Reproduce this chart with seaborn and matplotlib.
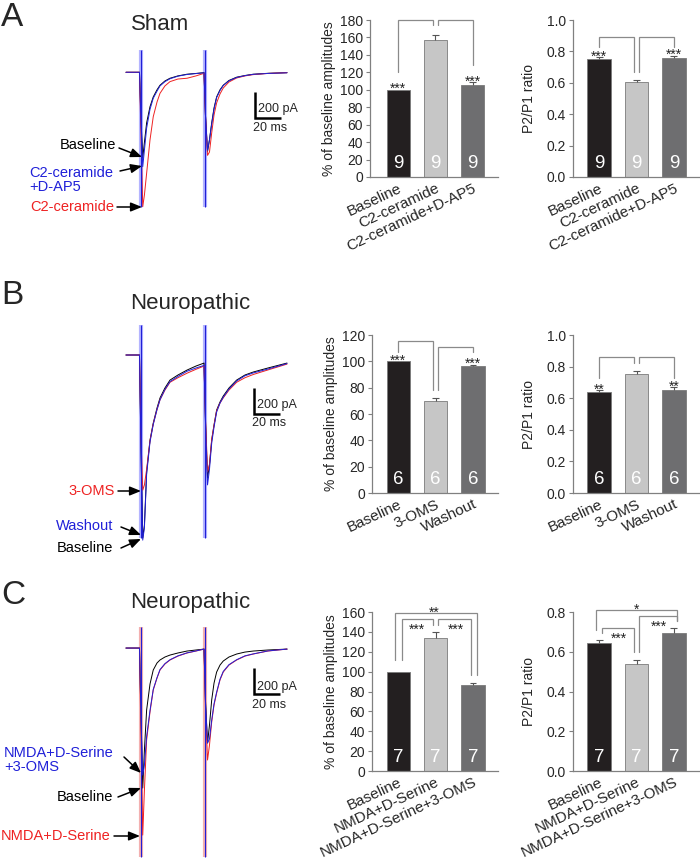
import numpy as np
import pandas as pd
import matplotlib
matplotlib.use("Agg")
import matplotlib.pyplot as plt
import matplotlib.transforms as mtransforms
from matplotlib.patches import FancyArrowPatch
import seaborn as sns

sns.set_theme(style="white")
plt.rcParams['font.family'] = ['Liberation Sans', 'DejaVu Sans']

# ---------------- bar-chart data ----------------
cond_A = ["Baseline", "C2-ceramide", "C2-ceramide+D-AP5"]
amp_A = [100, 157.5, 106]
amp_A_sem = [0, 5, 2.5]
ppr_A = [0.752, 0.605, 0.76]
ppr_A_sem = [0.01, 0.015, 0.012]
n_A = [9, 9, 9]
star_A_amp = ["***", "", "***"]
star_A_ppr = ["***", "", "***"]

cond_B = ["Baseline", "3-OMS", "Washout"]
amp_B = [100, 70, 96.3]
amp_B_sem = [0, 1.8, 1.2]
ppr_B = [0.642, 0.755, 0.655]
ppr_B_sem = [0.01, 0.015, 0.015]
n_B = [6, 6, 6]
star_B_amp = ["***", "", "***"]
star_B_ppr = ["**", "", "**"]

cond_C = ["Baseline", "NMDA+D-Serine", "NMDA+D-Serine+3-OMS"]
amp_C = [100, 133.5, 87]
amp_C_sem = [0, 6.5, 2]
ppr_C = [0.645, 0.54, 0.695]
ppr_C_sem = [0.012, 0.018, 0.022]
n_C = [7, 7, 7]
star_C_amp = ["", "", ""]
star_C_ppr = ["", "", ""]

# brackets: (x_start, x_end, y_start, y_top, y_end, label, label_x, label_pos)
brk_A_amp = [(0, 0.92, 120, 180, 174, "", 0, ""), (1.08, 2, 174, 180, 128, "", 0, "")]
brk_A_ppr = [(0, 0.93, 0.83, 0.894, 0.67, "", 0, ""), (1.08, 2, 0.67, 0.894, 0.83, "", 0, "")]
brk_B_amp = [(0, 0.93, 107, 115.5, 78, "", 0, ""), (1.07, 2, 78, 111, 107, "", 0, "")]
brk_B_ppr = [(0, 0.93, 0.725, 0.858, 0.82, "", 0, ""), (1.07, 2, 0.82, 0.858, 0.725, "", 0, "")]
brk_C_amp = [(-0.09, 2.1, 111.7, 158.6, 96.6, "**", 0.95, "above"),
             (0.09, 0.94, 111.7, 152.6, 146.9, "***", 0.49, "below"),
             (1.07, 1.96, 146.9, 152.6, 96.6, "***", 1.54, "below")]
brk_C_ppr = [(-0.09, 2.09, 0.709, 0.81, 0.755, "*", 1.0, "above"),
             (0.07, 0.92, 0.693, 0.718, 0.60, "***", 0.52, "below"),
             (1.08, 2.09, 0.60, 0.778, 0.755, "***", 1.6, "below")]

# ---------------- trace data (ms, pA) ----------------
t_ms = [0, 10.4, 11.6, 12.9, 14.2, 15.9, 18.5, 21.0, 23.9, 26.2, 30.0, 33.9, 40.0, 47.0,
        53.9, 60.1, 61.2, 62.8, 64.3, 66.0, 67.8, 69.8, 72.4, 74.9, 79.3, 85.2, 91.6,
        98.0, 109.3, 124.0]
stim_ms = [11.3, 60.8]

A_base = [0, 0, -370, -660, -540, -390, -265, -190, -135, -100, -67, -46, -28, -15, -9, -3,
          -330, -610, -520, -390, -275, -190, -135, -100, -63, -38, -25, -15, -8, -3]
A_c2 = [0, 0, -500, -1035, -945, -778, -521, -342, -229, -162, -105, -72, -52, -46, -28, -8,
        -330, -640, -614, -467, -329, -236, -167, -121, -75, -44, -28, -18, -9, -3]
A_c2ap5 = [0, 0, -400, -727, -600, -430, -285, -200, -145, -105, -72, -50, -30, -17, -10, -4,
           -330, -600, -520, -400, -285, -195, -140, -102, -66, -40, -26, -16, -9, -4]
A_artifact = [172, -1035]

B_base = [0, 0, -730, -1409, -1309, -900, -655, -524, -408, -331, -254, -193, -154, -116, -85, -62,
          -500, -947, -847, -655, -539, -424, -362, -316, -254, -193, -154, -131, -100, -62]
B_oms = [0, 0, -650, -1040, -1000, -880, -660, -530, -420, -345, -270, -210, -175, -140, -110, -85,
         -480, -900, -840, -650, -540, -430, -370, -330, -270, -210, -175, -150, -115, -70]
B_wash = [0, 0, -750, -1425, -1330, -920, -670, -535, -420, -345, -265, -205, -165, -125, -100, -80,
          -520, -1000, -880, -680, -555, -440, -370, -325, -262, -200, -160, -138, -108, -66]
B_artifact = [231, -1409]

C_base = [0, 0, -554, -1078, -785, -477, -277, -169, -115, -92, -69, -54, -38, -23, -15, -8,
          -400, -731, -593, -400, -270, -185, -131, -100, -69, -46, -31, -23, -15, -8]
C_nmda = [0, 0, -700, -1440, -1093, -708, -493, -323, -231, -169, -123, -92, -62, -38, -23, -8,
          -450, -862, -747, -570, -439, -347, -246, -185, -131, -92, -62, -46, -23, -8]
C_nmda_oms = [0, 0, -550, -978, -900, -680, -480, -318, -228, -166, -120, -90, -60, -37, -22, -8,
              -420, -731, -700, -555, -430, -340, -240, -180, -128, -90, -60, -45, -22, -8]
C_artifact = [162, -1609]

scale_pA = 200
scale_ms = 20

BLACK = "#000000"
RED = "#ee2222"
BLUE = "#2020d8"
bar_colors = ["#231f20", "#c6c6c6", "#6e6e70"]
GREY = "#8a8a8a"

W, H = 700, 863
fig = plt.figure(figsize=(7, 8.63), dpi=100)
fig.patch.set_facecolor("white")


def fx(x):
    return x / W


def fy(y):
    return 1 - y / H


def axes_px(l, r, t, b):
    return fig.add_axes([fx(l), fy(b), (r - l) / W, (b - t) / H])


def arrow(x0, y0, x1, y1):
    a = FancyArrowPatch((fx(x0), fy(y0)), (fx(x1), fy(y1)), transform=fig.transFigure,
                        arrowstyle="-|>,head_length=0.42,head_width=0.17", mutation_scale=16,
                        lw=1.1, color="black", shrinkA=0, shrinkB=0)
    fig.add_artist(a)


def ftext(x, y, s, **kw):
    fig.text(fx(x), fy(y), s, **kw)


# ---------------- traces ----------------
def trace_panel(box, ylim, traces, artifact, art_band, sb_pos, sb_text):
    ax = axes_px(*box)
    ax.set_xlim(-20, 134)
    ax.set_ylim(*ylim)
    ax.axis("off")
    ax.vlines(stim_ms, artifact[1], artifact[0], color=art_band, lw=3.0, zorder=1)
    for y, c in traces:
        sns.lineplot(x=t_ms, y=y, color=c, linewidth=0.7, ax=ax, sort=False,
                     estimator=None, zorder=2)
    ax.vlines(stim_ms, artifact[1], artifact[0], color=BLUE, lw=0.8, zorder=3)
    t0, i0 = sb_pos
    ax.plot([t0, t0, t0 + scale_ms], [i0 + scale_pA, i0, i0], color="black", lw=1.8,
            solid_joinstyle="miter", solid_capstyle="butt")
    ax.text(t0 + 2.2, sb_text[0], f"{scale_pA} pA", fontsize=9, va="center", ha="left")
    ax.text(t0 + 11.5, sb_text[1], f"{scale_ms} ms", fontsize=9, va="center", ha="center")
    return ax


trace_panel((100, 300, 35, 225), (-1176, 287),
            [(A_base, BLACK), (A_c2, RED), (A_c2ap5, BLUE)], A_artifact, "#b4b4ff",
            (99.3, -354), (-285, -431))
trace_panel((100, 300, 315, 560), (-1578, 308),
            [(B_base, BLACK), (B_oms, RED), (B_wash, BLUE)], B_artifact, "#b4b4ff",
            (98.6, -454), (-385, -521))
trace_panel((100, 300, 610, 863), (-1655, 293),
            [(C_base, BLACK), (C_nmda, RED), (C_nmda_oms, BLUE)], C_artifact, "#f3b0b0",
            (98.6, -354), (-298, -439))

# panel letters & titles
ftext(1, 17, "A", fontsize=24, va="center", ha="left")
ftext(160, 25, "Sham", fontsize=16, va="center", ha="center")
ftext(1, 295, "B", fontsize=24, va="center", ha="left")
ftext(190, 303, "Neuropathic", fontsize=16, va="center", ha="center")
ftext(1, 595, "C", fontsize=24, va="center", ha="left")
ftext(190, 602, "Neuropathic", fontsize=16, va="center", ha="center")

# trace labels + arrows
LFS = 10.5
ftext(116, 145, "Baseline", fontsize=LFS, va="center", ha="right", color=BLACK)
arrow(119, 148, 142, 157)
ftext(29, 180, "C2-ceramide\n+D-AP5", fontsize=LFS, va="center", ha="left", color=BLUE,
      linespacing=1.05)
arrow(120, 171, 142, 166)
ftext(114, 207, "C2-ceramide", fontsize=LFS, va="center", ha="right", color=RED)
arrow(117, 207, 142, 207)

ftext(115, 491, "3-OMS", fontsize=LFS, va="center", ha="right", color=RED)
arrow(118, 491, 141, 491)
ftext(113, 526, "Washout", fontsize=LFS, va="center", ha="right", color=BLUE)
arrow(121, 527, 141, 535)
ftext(113, 548, "Baseline", fontsize=LFS, va="center", ha="right", color=BLACK)
arrow(121, 548, 141, 539)

ftext(4, 760, "NMDA+D-Serine\n+3-OMS", fontsize=LFS, va="center", ha="left", color=BLUE,
      linespacing=1.05)
arrow(124, 757, 141, 773)
ftext(113, 797, "Baseline", fontsize=LFS, va="center", ha="right", color=BLACK)
arrow(118, 797, 141, 788)
ftext(110, 836, "NMDA+D-Serine", fontsize=LFS, va="center", ha="right", color=RED)
arrow(114, 836, 140, 836)


# ---------------- bar charts ----------------
def bar_panel(box, xlim, conds, vals, sems, ns, stars, brackets, ylim, yticks, fmt,
              ylabel, labelpad):
    ax = axes_px(*box)
    df = pd.DataFrame({"cond": conds, "val": vals})
    sns.barplot(data=df, x="cond", y="val", hue="cond", order=conds, hue_order=conds,
                palette=bar_colors, legend=False, width=0.625, saturation=1,
                edgecolor="#7a7a7a", linewidth=0.6, errorbar=None, ax=ax)
    xs = np.arange(len(conds))
    vals = np.asarray(vals, float)
    tops = vals + np.asarray(sems, float)
    has = np.asarray(sems) > 0
    ax.vlines(xs[has], vals[has], tops[has], color="#555555", lw=0.8, zorder=3)
    ax.hlines(tops[has], xs[has] - 0.09, xs[has] + 0.09, color="#555555", lw=0.8, zorder=3)
    blend = mtransforms.blended_transform_factory(ax.transData, ax.transAxes)
    for i, n in enumerate(ns):
        ax.text(i, 0.085, str(n), transform=blend, ha="center", va="center",
                color="white", fontsize=13.5)
    for i, s in enumerate(stars):
        if s:
            ax.annotate(s, xy=(i, tops[i]), xytext=(0, -2.5), textcoords="offset points",
                        ha="center", va="baseline", fontsize=10, color="#222222",
                        annotation_clip=False)
    for (x0, x1, yl, yt, yr, lab, lx, pos) in brackets:
        ax.plot([x0, x0, x1, x1], [yl, yt, yt, yr], color=GREY, lw=0.9, clip_on=False,
                solid_joinstyle="miter")
        if lab:
            off = -10.5 if pos == "below" else -2.5
            ax.annotate(lab, xy=(lx, yt), xytext=(0, off), textcoords="offset points",
                        ha="center", va="baseline", fontsize=10, color="#222222",
                        annotation_clip=False)
    ax.set_xlim(*xlim)
    ax.set_ylim(*ylim)
    ax.set_yticks(yticks)
    ax.set_yticklabels([fmt.format(v) for v in yticks])
    ax.set_xticks(xs)
    ax.set_xticklabels(conds, rotation=25, ha="right", rotation_mode="anchor",
                       fontsize=11)
    ax.set_xlabel("")
    ax.set_ylabel(ylabel, fontsize=10, labelpad=labelpad)
    for side in ("top", "right"):
        ax.spines[side].set_visible(False)
    for side in ("left", "bottom"):
        ax.spines[side].set_color("#808080")
        ax.spines[side].set_linewidth(0.9)
    ax.tick_params(axis="y", direction="out", length=3, width=0.8, color="#808080",
                   labelsize=10, pad=2, left=True)
    ax.tick_params(axis="x", length=0, pad=3)
    ax.set_facecolor("none")
    return ax


AMP_LABEL = "% of baseline amplitudes"
PPR_LABEL = "P2/P1 ratio"

bar_panel((370, 498, 20, 177), (-0.76, 2.68), cond_A, amp_A, amp_A_sem, n_A, star_A_amp,
          brk_A_amp, (0, 180), list(range(0, 181, 20)), "{:d}", AMP_LABEL, 3)
bar_panel((573, 700, 20, 177), (-0.70, 2.70), cond_A, ppr_A, ppr_A_sem, n_A, star_A_ppr,
          brk_A_ppr, (0, 1.0), [0.0, 0.2, 0.4, 0.6, 0.8, 1.0], "{:.1f}", PPR_LABEL, 8)
bar_panel((372, 498, 335, 493), (-0.705, 2.67), cond_B, amp_B, amp_B_sem, n_B, star_B_amp,
          brk_B_amp, (0, 120), list(range(0, 121, 20)), "{:d}", AMP_LABEL, 3)
bar_panel((573, 700, 335, 493), (-0.70, 2.70), cond_B, ppr_B, ppr_B_sem, n_B, star_B_ppr,
          brk_B_ppr, (0, 1.0), [0.0, 0.2, 0.4, 0.6, 0.8, 1.0], "{:.1f}", PPR_LABEL, 8)
bar_panel((372, 498, 612, 771), (-0.705, 2.67), cond_C, amp_C, amp_C_sem, n_C, star_C_amp,
          brk_C_amp, (0, 160), list(range(0, 161, 20)), "{:d}", AMP_LABEL, 3)
bar_panel((573, 700, 612, 771), (-0.70, 2.70), cond_C, ppr_C, ppr_C_sem, n_C, star_C_ppr,
          brk_C_ppr, (0, 0.8), [0.0, 0.2, 0.4, 0.6, 0.8], "{:.1f}", PPR_LABEL, 8)

fig.savefig("out.png", dpi=100, facecolor="white")
